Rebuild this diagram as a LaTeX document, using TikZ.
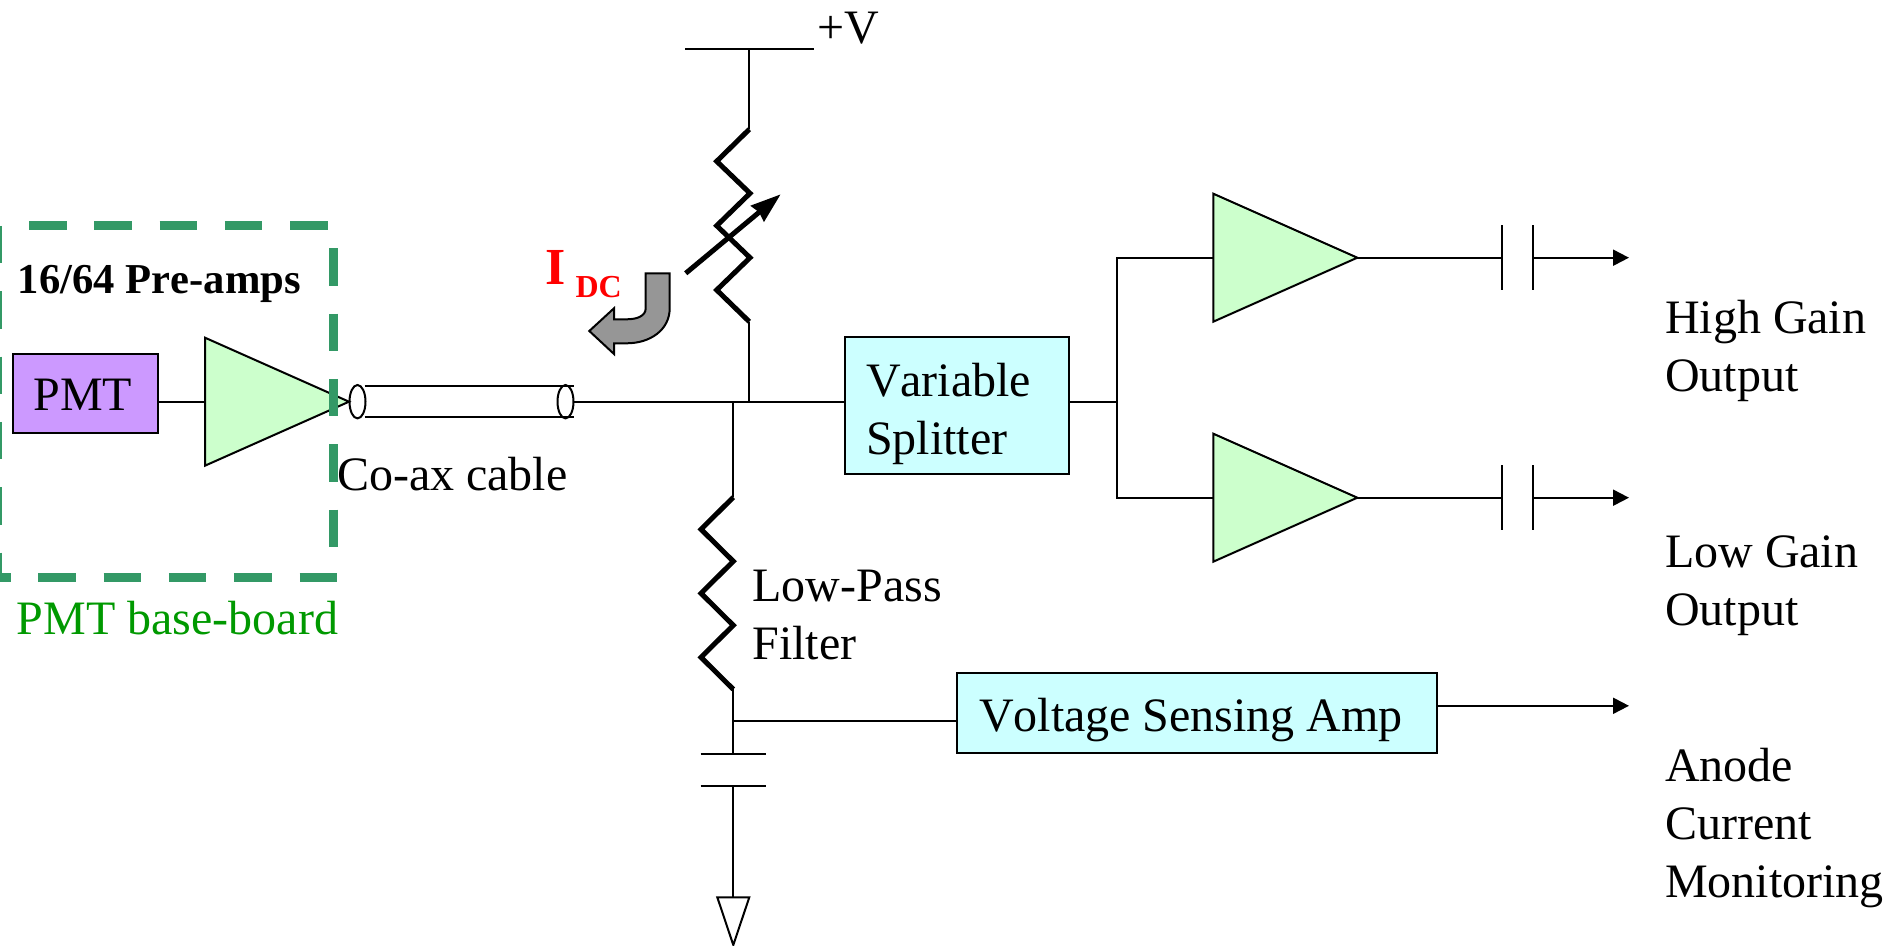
\documentclass[tikz,border=0pt]{standalone}
\usepackage{fontspec}
\setmainfont{Liberation Serif}[Kerning=Off]
\usetikzlibrary{arrows.meta,shapes.geometric}
\definecolor{boardgreen}{HTML}{339966}
\definecolor{labelgreen}{HTML}{009900}
\definecolor{pmtfill}{HTML}{CC99FF}
\definecolor{ampfill}{HTML}{CCFFCC}
\definecolor{boxfill}{HTML}{CCFFFF}
\definecolor{flowgrey}{HTML}{969696}
\tikzset{
  wire/.style={line width=1pt},
  outwire/.style={line width=1pt,-{Triangle[length=8pt,width=8pt]}},
  resline/.style={line width=2.5pt,line join=miter},
  boardline/.style={boardgreen,line width=4.5pt,dash pattern=on 18.75pt off 13.9pt},
  ampnode/.style={draw,fill=ampfill,line width=1pt,isosceles triangle,isosceles triangle stretches,
    minimum width=64pt,minimum height=72pt,inner sep=0pt,outer sep=0pt,anchor=lower side},
  boxnode/.style={draw,fill=boxfill,line width=1pt,anchor=north west,inner ysep=0pt,outer sep=0pt,align=flush left,text depth=0pt},
  txt/.style={anchor=base west,inner sep=0pt,outer sep=0pt,align=left},
  cable/.style={draw,ellipse,line width=1pt,minimum width=8pt,minimum height=16.7pt,inner sep=0pt,outer sep=0pt}
}
\begin{document}
\begin{tikzpicture}[x=0.5pt,y=-0.5pt,font=\fontsize{24}{29}\selectfont]
\useasboundingbox (0,0) rectangle (1890,946);

\node[boxnode,fill=pmtfill,minimum height=39.7pt,text width=51.9pt,inner xsep=10.3pt,text height=17.6pt] (pmt) at (13,353.7) {PMT};
\node[ampnode] (preamp) at (205,401.7) {};
\node[ampnode] (ampa) at (1213.3,257.7) {};
\node[ampnode] (ampb) at (1213.3,497.7) {};
\node[cable] (coaxl) at (357.5,401.7) {};
\node[cable] (coaxr) at (565.5,401.7) {};
\node[boxnode,minimum height=68.2pt,text width=91pt,inner xsep=10.5pt,text height=18.2pt,text depth=27.5pt] (splitter) at (845,337.5) {Variable\\[0pt]Splitter};
\node[boxnode,minimum height=40pt,text width=218pt,inner xsep=11pt,text height=17.7pt] (sense) at (957,673.3) {Voltage Sensing Amp};
\draw[wire] (pmt.east |- preamp.lower side) -- (preamp.lower side);

\coordinate (coaxjoin) at (733.3,401.7);
\coordinate (tapjoin) at (749.3,401.7);
\coordinate (railmid) at (749.3,49.3);
\coordinate (splitjoin) at (1117.4,401.7);
\coordinate (filtertop) at (733.3,497.3);
\coordinate (filterend) at (733.3,689.3);
\coordinate (sensejoin) at (733.3,721.3);
\coordinate (captop) at (733.3,753.7);
\coordinate (capbot) at (733.3,785.7);
\coordinate (gnd) at (733.3,897.3);
\coordinate (vartop) at (749.3,129.3);
\coordinate (varend) at (749.3,321.7);

\draw[wire] (685,49.3) -- (814,49.3);
\draw[wire] (railmid) -- (vartop);
\draw[resline] (vartop) -- ++(-32.6,32) -- ++(33.3,32) -- ++(-33.3,32.4) -- ++(33.3,32) -- ++(-33.3,32.3) -- (varend);
\draw[wire] (varend) -- (tapjoin);
\draw[line width=2.5pt,-{Stealth[length=15pt,width=10pt,inset=1pt]}] (685.7,273.3) -- (780.7,194.3);

\draw[wire] (coaxr.east) -- (splitter.west |- coaxr.east);
\draw[wire] (364.6,385.7) -- (574,385.7);
\draw[wire] (364.6,417.3) -- (574,417.3);
\draw[wire] (splitter.east |- splitjoin) -- (splitjoin);
\draw[wire] (ampa.lower side) -| (splitjoin) |- (ampb.lower side);

\foreach \a/\y in {ampa/257.7,ampb/497.7}{
  \draw[wire] (\a.apex) -- (1501.7,\y);
  \draw[wire] (1501.7,\y-32.4) -- (1501.7,\y+32.4);
  \draw[wire] (1533.3,\y-32.4) -- (1533.3,\y+32.4);
  \draw[outwire] (1533.3,\y) -- (1629,\y);
}

\draw[wire] (coaxjoin) -- (filtertop);
\draw[resline] (filtertop) -- ++(-32.3,32) -- ++(32.3,32) -- ++(-32.3,32) -- ++(32.3,32) -- ++(-32.3,32) -- (filterend);
\draw[wire] (filterend) -- (captop);
\draw[wire] (sensejoin) -- (sensejoin -| sense.west);
\draw[wire] (700.7,753.7) -- (766,753.7);
\draw[wire] (700.7,785.7) -- (766,785.7);
\draw[wire] (capbot) -- (gnd);
\draw[wire,line join=miter] (717.3,897.3) -- (749.3,897.3) -- (733.3,945) -- cycle;
\draw[outwire] (sense.east |- 0,705.8) -- (1629,705.8);

\draw[wire,fill=flowgrey] (645.7,273.3) -- (669.7,273.3) -- (669.7,308.3) .. controls (669.7,330) and (650,343.3) .. (626.7,343.3) -- (614,343.3) -- (614,354) -- (589.3,331) -- (614,308.3) -- (614,319.3) -- (626.7,319.3) .. controls (637,319.3) and (645.7,316) .. (645.7,308.3) -- cycle;

\draw[boardline] (-2.5,226) -- (-2.5,578);
\draw[boardline] (29,225.7) -- (328,225.7);
\draw[boardline] (333,248.3) -- (333,547);
\draw[boardline] (-27,577.7) -- (338,577.7);

\node[txt,font=\fontsize{21.3}{25}\selectfont\bfseries] (preamps) at (18,293.7) {16/64 Pre-amps};
\node[txt,text=labelgreen] (board) at (17,634) {PMT base-board};
\node[txt] (coaxtxt) at (337,490) {Co-ax cable};
\node[txt] (vplus) at (817,43.7) {+V};
\node[txt,text=red,font=\fontsize{26}{29}\selectfont\bfseries] (idc) at (545,285) {I};
\node[txt,text=red,font=\fontsize{16}{19}\selectfont\bfseries] (idcsub) at (575.5,297.7) {DC};
\node[txt] (lowpass) at (752.5,659.5) {Low-Pass\\[0pt]Filter};
\node[txt] (highout) at (1665,391.5) {High Gain\\[0pt]Output};
\node[txt] (lowout) at (1665,625.5) {Low Gain\\[0pt]Output};
\node[txt] (monitor) at (1665,897) {Anode\\[0pt]Current\\[0pt]Monitoring};
\end{tikzpicture}
\end{document}
